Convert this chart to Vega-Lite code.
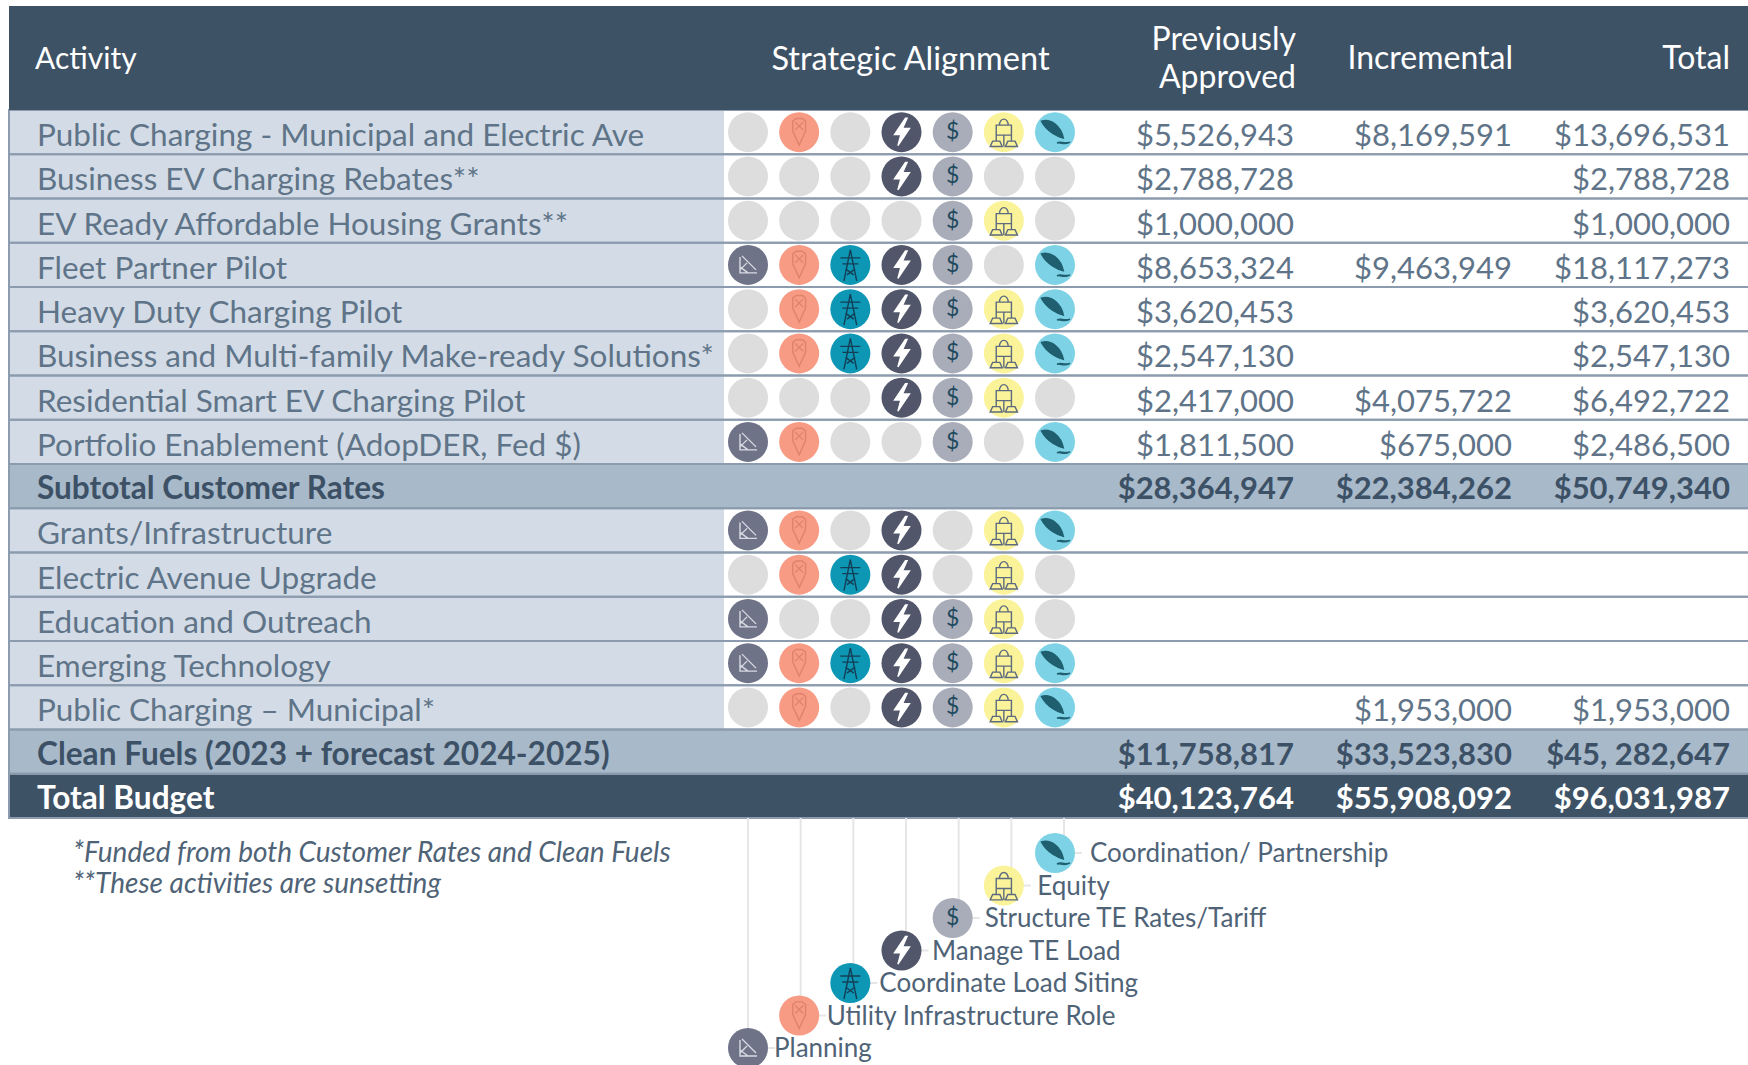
{"$schema":"https://vega.github.io/schema/vega-lite/v6.json","width":1748,"height":1065,"padding":0,"autosize":{"type":"none"},"background":"white","config":{"view":{"stroke":null},"text":{"font":"Lato"}},
"datasets":{
"rows":[
{"activity":"Public Charging - Municipal and Electric Ave","kind":"item","Planning":0,"Utility Infrastructure Role":1,"Coordinate Load Siting":0,"Manage TE Load":1,"Structure TE Rates/Tariff":1,"Equity":1,"Coordination/ Partnership":1,"Previously Approved":"$5,526,943","Incremental":"$8,169,591","Total":"$13,696,531"},
{"activity":"Business EV Charging Rebates**","kind":"item","Planning":0,"Utility Infrastructure Role":0,"Coordinate Load Siting":0,"Manage TE Load":1,"Structure TE Rates/Tariff":1,"Equity":0,"Coordination/ Partnership":0,"Previously Approved":"$2,788,728","Incremental":null,"Total":"$2,788,728"},
{"activity":"EV Ready Affordable Housing Grants**","kind":"item","Planning":0,"Utility Infrastructure Role":0,"Coordinate Load Siting":0,"Manage TE Load":0,"Structure TE Rates/Tariff":1,"Equity":1,"Coordination/ Partnership":0,"Previously Approved":"$1,000,000","Incremental":null,"Total":"$1,000,000"},
{"activity":"Fleet Partner Pilot","kind":"item","Planning":1,"Utility Infrastructure Role":1,"Coordinate Load Siting":1,"Manage TE Load":1,"Structure TE Rates/Tariff":1,"Equity":0,"Coordination/ Partnership":1,"Previously Approved":"$8,653,324","Incremental":"$9,463,949","Total":"$18,117,273"},
{"activity":"Heavy Duty Charging Pilot","kind":"item","Planning":0,"Utility Infrastructure Role":1,"Coordinate Load Siting":1,"Manage TE Load":1,"Structure TE Rates/Tariff":1,"Equity":1,"Coordination/ Partnership":1,"Previously Approved":"$3,620,453","Incremental":null,"Total":"$3,620,453"},
{"activity":"Business and Multi-family Make-ready Solutions*","kind":"item","Planning":0,"Utility Infrastructure Role":1,"Coordinate Load Siting":1,"Manage TE Load":1,"Structure TE Rates/Tariff":1,"Equity":1,"Coordination/ Partnership":1,"Previously Approved":"$2,547,130","Incremental":null,"Total":"$2,547,130"},
{"activity":"Residential Smart EV Charging Pilot","kind":"item","Planning":0,"Utility Infrastructure Role":0,"Coordinate Load Siting":0,"Manage TE Load":1,"Structure TE Rates/Tariff":1,"Equity":1,"Coordination/ Partnership":0,"Previously Approved":"$2,417,000","Incremental":"$4,075,722","Total":"$6,492,722"},
{"activity":"Portfolio Enablement (AdopDER, Fed $)","kind":"item","Planning":1,"Utility Infrastructure Role":1,"Coordinate Load Siting":0,"Manage TE Load":0,"Structure TE Rates/Tariff":1,"Equity":0,"Coordination/ Partnership":1,"Previously Approved":"$1,811,500","Incremental":"$675,000","Total":"$2,486,500"},
{"activity":"Subtotal Customer Rates","kind":"subtotal","Previously Approved":"$28,364,947","Incremental":"$22,384,262","Total":"$50,749,340"},
{"activity":"Grants/Infrastructure","kind":"item","Planning":1,"Utility Infrastructure Role":1,"Coordinate Load Siting":0,"Manage TE Load":1,"Structure TE Rates/Tariff":0,"Equity":1,"Coordination/ Partnership":1},
{"activity":"Electric Avenue Upgrade","kind":"item","Planning":0,"Utility Infrastructure Role":1,"Coordinate Load Siting":1,"Manage TE Load":1,"Structure TE Rates/Tariff":0,"Equity":1,"Coordination/ Partnership":0},
{"activity":"Education and Outreach","kind":"item","Planning":1,"Utility Infrastructure Role":0,"Coordinate Load Siting":0,"Manage TE Load":1,"Structure TE Rates/Tariff":1,"Equity":1,"Coordination/ Partnership":0},
{"activity":"Emerging Technology","kind":"item","Planning":1,"Utility Infrastructure Role":1,"Coordinate Load Siting":1,"Manage TE Load":1,"Structure TE Rates/Tariff":1,"Equity":1,"Coordination/ Partnership":1},
{"activity":"Public Charging – Municipal*","kind":"item","Planning":0,"Utility Infrastructure Role":1,"Coordinate Load Siting":0,"Manage TE Load":1,"Structure TE Rates/Tariff":1,"Equity":1,"Coordination/ Partnership":1,"Previously Approved":null,"Incremental":"$1,953,000","Total":"$1,953,000"},
{"activity":"Clean Fuels (2023 + forecast 2024-2025)","kind":"subtotal","Previously Approved":"$11,758,817","Incremental":"$33,523,830","Total":"$45, 282,647"},
{"activity":"Total Budget","kind":"total","Previously Approved":"$40,123,764","Incremental":"$55,908,092","Total":"$96,031,987"}
],
"legend":[
{"strategy":"Coordination/ Partnership","level":1},
{"strategy":"Equity","level":2},
{"strategy":"Structure TE Rates/Tariff","level":3},
{"strategy":"Manage TE Load","level":4},
{"strategy":"Coordinate Load Siting","level":5},
{"strategy":"Utility Infrastructure Role","level":6},
{"strategy":"Planning","level":7}
],
"headers":[{"column":"Previously Approved","label":"Previously","line":"upper"},{"column":"Previously Approved","label":"Approved","line":"lower"},{"column":"Incremental","label":"Incremental","line":"single"},{"column":"Total","label":"Total","line":"single"}],
"notes":[{"note":"*Funded from both Customer Rates and Clean Fuels"},{"note":"**These activities are sunsetting"}]
},
"encoding":{"y":{"field":"activity","type":"nominal","axis":null,"scale":{"type":"band","domain":["Public Charging - Municipal and Electric Ave","Business EV Charging Rebates**","EV Ready Affordable Housing Grants**","Fleet Partner Pilot","Heavy Duty Charging Pilot","Business and Multi-family Make-ready Solutions*","Residential Smart EV Charging Pilot","Portfolio Enablement (AdopDER, Fed $)","Subtotal Customer Rates","Grants/Infrastructure","Electric Avenue Upgrade","Education and Outreach","Emerging Technology","Public Charging – Municipal*","Clean Fuels (2023 + forecast 2024-2025)","Total Budget"],"range":[110,818],"paddingInner":0,"paddingOuter":0}}},
"resolve":{"scale":{"x":"independent","y":"independent","color":"independent","fill":"independent","stroke":"independent","shape":"independent"}},
"layer":[
{"data":{"name":"rows"},"mark":{"type":"rect"},"encoding":{"x":{"datum":"Table","type":"nominal","axis":null,"scale":{"type":"band","domain":["Table"],"range":[9,1748],"paddingInner":0,"paddingOuter":0}},"color":{"field":"kind","type":"nominal","legend":null,"scale":{"domain":["item","subtotal","total"],"range":["#ffffff","#a8b9ca","#3e5266"]}}}},
{"data":{"name":"rows"},"transform":[{"filter":"datum.kind==='item'"}],"mark":{"type":"rect","fill":"#d3dce6"},"encoding":{"x":{"datum":"Activity","type":"nominal","axis":null,"scale":{"type":"band","domain":["Activity"],"range":[9,724],"paddingInner":0,"paddingOuter":0}}}},
{"data":{"name":"rows"},"mark":{"type":"rect","fillOpacity":0,"stroke":"#8c9cae","strokeWidth":2},"encoding":{"x":{"datum":"Table","type":"nominal","axis":null,"scale":{"type":"band","domain":["Table"],"range":[9,1760],"paddingInner":0,"paddingOuter":0}}}},
{"data":{"name":"rows"},"transform":[{"filter":"datum.kind==='item'"},{"fold":["Planning","Utility Infrastructure Role","Coordinate Load Siting","Manage TE Load","Structure TE Rates/Tariff","Equity","Coordination/ Partnership"],"as":["strategy","aligned"]}],"mark":{"type":"point","filled":true,"opacity":1,"size":1600,"shape":"circle"},"encoding":{"x":{"field":"strategy","type":"nominal","axis":null,"scale":{"type":"point","domain":["Planning","Utility Infrastructure Role","Coordinate Load Siting","Manage TE Load","Structure TE Rates/Tariff","Equity","Coordination/ Partnership"],"range":[748,1055],"padding":0}},"fill":{"condition":{"test":"datum.aligned===0","value":"#dddddd"},"field":"strategy","type":"nominal","legend":null,"scale":{"domain":["Planning","Utility Infrastructure Role","Coordinate Load Siting","Manage TE Load","Structure TE Rates/Tariff","Equity","Coordination/ Partnership"],"range":["#6e7388","#f79b85","#0e96b5","#52566a","#a9adba","#faf39a","#7dd3e5"]}}}},
{"data":{"name":"rows"},"transform":[{"filter":"datum.kind==='item'"},{"fold":["Planning","Utility Infrastructure Role","Coordinate Load Siting","Manage TE Load","Equity","Coordination/ Partnership"],"as":["strategy","aligned"]},{"filter":"datum.aligned===1"}],"mark":{"type":"point","opacity":1,"size":1600,"strokeWidth":1.4},"encoding":{"x":{"field":"strategy","type":"nominal","axis":null,"scale":{"type":"point","domain":["Planning","Utility Infrastructure Role","Coordinate Load Siting","Manage TE Load","Structure TE Rates/Tariff","Equity","Coordination/ Partnership"],"range":[748,1055],"padding":0}},
"shape":{"field":"strategy","type":"nominal","legend":null,"scale":{"domain":["Planning","Utility Infrastructure Role","Coordinate Load Siting","Manage TE Load","Equity","Coordination/ Partnership"],"range":["M-0.4,-0.4 L-0.4,0.4 L0.45,0.4 M-0.3,-0.45 L0.4,0.25 M-0.4,0.1 L0,0.4 M-0.4,0.25 L-0.05,-0.1","M-0.32,-0.55 L-0.15,-0.68 L0.15,-0.68 L0.32,-0.55 L0.32,-0.05 L0,0.65 L-0.32,-0.05 Z M-0.2,-0.5 L0.2,-0.1 M0.2,-0.5 L-0.2,-0.1","M0,-0.75 L-0.32,0.8 M0,-0.75 L0.32,0.8 M-0.5,-0.35 L0.5,-0.35 M-0.4,-0.05 L0.4,-0.05 M-0.24,0.2 L0.17,0.5 M0.24,0.2 L-0.17,0.5","M0.2,-0.7 L-0.35,0.12 L-0.03,0.12 L-0.18,0.68 L0.4,-0.18 L0.05,-0.18 L0.28,-0.7 Z","M-0.22,-0.35 A0.22,0.3 0 0 1 0.22,-0.35 Z M-0.38,-0.35 L0.38,-0.35 L0.38,0.15 L-0.38,0.15 Z M-0.68,0.72 L-0.08,0.72 L-0.2,0.45 L-0.56,0.45 Z M0.08,0.72 L0.68,0.72 L0.56,0.45 L0.2,0.45 Z M0,0.15 L0,0.72 M-0.38,0.15 L-0.38,0.45 M0.38,0.15 L0.38,0.45","M-0.68,-0.55 C-0.2,-0.7 0.3,-0.3 0.42,0.3 C0.2,0.25 -0.4,0 -0.68,-0.55 Z M0.1,0.55 C0.3,0.4 0.4,0.62 0.75,0.5 C0.4,0.68 0.3,0.48 0.1,0.55 Z"]}},
"fill":{"field":"strategy","type":"nominal","legend":null,"scale":{"domain":["Planning","Utility Infrastructure Role","Coordinate Load Siting","Manage TE Load","Equity","Coordination/ Partnership"],"range":["transparent","transparent","transparent","#ffffff","transparent","#1f5f70"]}},
"stroke":{"field":"strategy","type":"nominal","legend":null,"scale":{"domain":["Planning","Utility Infrastructure Role","Coordinate Load Siting","Manage TE Load","Equity","Coordination/ Partnership"],"range":["#d8dae2","#e0826c","#123f55","#ffffff","#5d6a7f","#1f5f70"]}}}},
{"data":{"name":"rows"},"transform":[{"filter":"datum.kind==='item'"},{"fold":["Structure TE Rates/Tariff"],"as":["strategy","aligned"]},{"filter":"datum.aligned===1"}],"mark":{"type":"text","text":"$","fontSize":23,"color":"#1f4a5e","baseline":"middle","align":"center"},"encoding":{"x":{"field":"strategy","type":"nominal","axis":null,"scale":{"type":"point","domain":["Planning","Utility Infrastructure Role","Coordinate Load Siting","Manage TE Load","Structure TE Rates/Tariff","Equity","Coordination/ Partnership"],"range":[748,1055],"padding":0}}}},
{"data":{"name":"rows"},"transform":[{"filter":"datum.kind==='item'"}],"mark":{"type":"text","align":"left","baseline":"middle","dx":28,"dy":5,"fontSize":31.5,"color":"#5f7488"},"encoding":{"text":{"field":"activity"},"x":{"datum":"Table","type":"nominal","bandPosition":0,"axis":null,"scale":{"type":"band","domain":["Table"],"range":[9,1748],"paddingInner":0,"paddingOuter":0}}}},
{"data":{"name":"rows"},"transform":[{"filter":"datum.kind!=='item'"}],"mark":{"type":"text","align":"left","baseline":"middle","dx":28,"dy":4,"fontSize":31.6,"fontWeight":"bold"},"encoding":{"text":{"field":"activity"},"x":{"datum":"Table","type":"nominal","bandPosition":0,"axis":null,"scale":{"type":"band","domain":["Table"],"range":[9,1748],"paddingInner":0,"paddingOuter":0}},"color":{"field":"kind","type":"nominal","legend":null,"scale":{"domain":["item","subtotal","total"],"range":["#5f7488","#3d5166","#ffffff"]}}}},
{"data":{"name":"rows"},"transform":[{"filter":"datum.kind==='item'"},{"fold":["Previously Approved","Incremental","Total"],"as":["column","amount"]},{"filter":"isValid(datum.amount)"}],"mark":{"type":"text","align":"right","baseline":"middle","dy":5,"fontSize":31,"color":"#5f7488"},"encoding":{"text":{"field":"amount"},"x":{"field":"column","type":"nominal","axis":null,"scale":{"type":"point","domain":["Previously Approved","Incremental","Total"],"range":[1294,1730],"padding":0}}}},
{"data":{"name":"rows"},"transform":[{"filter":"datum.kind!=='item'"},{"fold":["Previously Approved","Incremental","Total"],"as":["column","amount"]}],"mark":{"type":"text","align":"right","baseline":"middle","dy":4,"fontSize":31,"fontWeight":"bold"},"encoding":{"text":{"field":"amount"},"x":{"field":"column","type":"nominal","axis":null,"scale":{"type":"point","domain":["Previously Approved","Incremental","Total"],"range":[1294,1730],"padding":0}},"color":{"field":"kind","type":"nominal","legend":null,"scale":{"domain":["item","subtotal","total"],"range":["#5f7488","#3d5166","#ffffff"]}}}},
{"data":{"values":[{"band":"Header"}]},"mark":{"type":"rect","fill":"#3e5266"},"encoding":{"x":{"datum":"Table","type":"nominal","axis":null,"scale":{"type":"band","domain":["Table"],"range":[9,1748],"paddingInner":0,"paddingOuter":0}},"y":{"field":"band","type":"nominal","axis":null,"scale":{"type":"band","domain":["Header"],"range":[6,110],"paddingInner":0,"paddingOuter":0}}}},
{"data":{"values":[{"band":"Header","label":"Activity"}]},"mark":{"type":"text","align":"left","baseline":"middle","dx":26,"dy":2,"fontSize":30,"color":"#ffffff"},"encoding":{"text":{"field":"label"},"x":{"datum":"Table","type":"nominal","bandPosition":0,"axis":null,"scale":{"type":"band","domain":["Table"],"range":[9,1748],"paddingInner":0,"paddingOuter":0}},"y":{"field":"band","type":"nominal","axis":null,"scale":{"type":"band","domain":["Header"],"range":[6,110],"paddingInner":0,"paddingOuter":0}}}},
{"data":{"values":[{"band":"Header","label":"Strategic Alignment"}]},"mark":{"type":"text","align":"center","baseline":"middle","dy":2,"fontSize":32.5,"color":"#ffffff"},"encoding":{"text":{"field":"label"},"x":{"field":"label","type":"nominal","axis":null,"scale":{"type":"band","domain":["Strategic Alignment"],"range":[771,1050],"paddingInner":0,"paddingOuter":0}},"y":{"field":"band","type":"nominal","axis":null,"scale":{"type":"band","domain":["Header"],"range":[6,110],"paddingInner":0,"paddingOuter":0}}}},
{"data":{"name":"headers"},"mark":{"type":"text","align":"right","baseline":"middle","fontSize":32,"color":"#ffffff"},"encoding":{"text":{"field":"label"},"x":{"field":"column","type":"nominal","axis":null,"scale":{"type":"point","domain":["Previously Approved","Incremental","Total"],"range":[1296,1730],"padding":0}},"y":{"field":"line","type":"nominal","axis":null,"scale":{"type":"point","domain":["upper","single","lower"],"range":[40,78],"padding":0}}}},
{"data":{"name":"notes"},"mark":{"type":"text","align":"left","baseline":"middle","fontStyle":"italic","fontSize":28,"color":"#4f6377"},"encoding":{"text":{"field":"note"},"x":{"field":"note","type":"nominal","axis":null,"scale":{"type":"point","domain":["*Funded from both Customer Rates and Clean Fuels","**These activities are sunsetting"],"range":[73,73],"padding":0}},"y":{"field":"note","type":"nominal","axis":null,"scale":{"type":"point","domain":["*Funded from both Customer Rates and Clean Fuels","**These activities are sunsetting"],"range":[854,885],"padding":0}}}},
{"data":{"name":"legend"},"mark":{"type":"rule","stroke":"#e6e6e6","strokeWidth":2},"encoding":{"x":{"field":"strategy","type":"nominal","axis":null,"scale":{"type":"point","domain":["Planning","Utility Infrastructure Role","Coordinate Load Siting","Manage TE Load","Structure TE Rates/Tariff","Equity","Coordination/ Partnership"],"range":[748,1064],"padding":0}},"y":{"field":"level","type":"quantitative","axis":null,"scale":{"domain":[0,1,7],"range":[818,853,1048]}},"y2":{"datum":0}}},
{"data":{"name":"legend"},"mark":{"type":"rule","stroke":"#e6e6e6","strokeWidth":2,"x2Offset":27},"encoding":{"x":{"field":"strategy","type":"nominal","axis":null,"scale":{"type":"point","domain":["Planning","Utility Infrastructure Role","Coordinate Load Siting","Manage TE Load","Structure TE Rates/Tariff","Equity","Coordination/ Partnership"],"range":[748,1055],"padding":0}},"x2":{"field":"strategy"},"y":{"field":"level","type":"quantitative","axis":null,"scale":{"domain":[0,1,7],"range":[818,853,1048]}}}},
{"data":{"name":"legend"},"mark":{"type":"point","filled":true,"opacity":1,"size":1600,"shape":"circle"},"encoding":{"x":{"field":"strategy","type":"nominal","axis":null,"scale":{"type":"point","domain":["Planning","Utility Infrastructure Role","Coordinate Load Siting","Manage TE Load","Structure TE Rates/Tariff","Equity","Coordination/ Partnership"],"range":[748,1055],"padding":0}},"y":{"field":"level","type":"quantitative","axis":null,"scale":{"domain":[0,1,7],"range":[818,853,1048]}},"fill":{"field":"strategy","type":"nominal","legend":null,"scale":{"domain":["Planning","Utility Infrastructure Role","Coordinate Load Siting","Manage TE Load","Structure TE Rates/Tariff","Equity","Coordination/ Partnership"],"range":["#6e7388","#f79b85","#0e96b5","#52566a","#a9adba","#faf39a","#7dd3e5"]}}}},
{"data":{"name":"legend"},"transform":[{"filter":"datum.strategy!=='Structure TE Rates/Tariff'"}],"mark":{"type":"point","opacity":1,"size":1600,"strokeWidth":1.4},"encoding":{"x":{"field":"strategy","type":"nominal","axis":null,"scale":{"type":"point","domain":["Planning","Utility Infrastructure Role","Coordinate Load Siting","Manage TE Load","Structure TE Rates/Tariff","Equity","Coordination/ Partnership"],"range":[748,1055],"padding":0}},"y":{"field":"level","type":"quantitative","axis":null,"scale":{"domain":[0,1,7],"range":[818,853,1048]}},
"shape":{"field":"strategy","type":"nominal","legend":null,"scale":{"domain":["Planning","Utility Infrastructure Role","Coordinate Load Siting","Manage TE Load","Equity","Coordination/ Partnership"],"range":["M-0.4,-0.4 L-0.4,0.4 L0.45,0.4 M-0.3,-0.45 L0.4,0.25 M-0.4,0.1 L0,0.4 M-0.4,0.25 L-0.05,-0.1","M-0.32,-0.55 L-0.15,-0.68 L0.15,-0.68 L0.32,-0.55 L0.32,-0.05 L0,0.65 L-0.32,-0.05 Z M-0.2,-0.5 L0.2,-0.1 M0.2,-0.5 L-0.2,-0.1","M0,-0.75 L-0.32,0.8 M0,-0.75 L0.32,0.8 M-0.5,-0.35 L0.5,-0.35 M-0.4,-0.05 L0.4,-0.05 M-0.24,0.2 L0.17,0.5 M0.24,0.2 L-0.17,0.5","M0.2,-0.7 L-0.35,0.12 L-0.03,0.12 L-0.18,0.68 L0.4,-0.18 L0.05,-0.18 L0.28,-0.7 Z","M-0.22,-0.35 A0.22,0.3 0 0 1 0.22,-0.35 Z M-0.38,-0.35 L0.38,-0.35 L0.38,0.15 L-0.38,0.15 Z M-0.68,0.72 L-0.08,0.72 L-0.2,0.45 L-0.56,0.45 Z M0.08,0.72 L0.68,0.72 L0.56,0.45 L0.2,0.45 Z M0,0.15 L0,0.72 M-0.38,0.15 L-0.38,0.45 M0.38,0.15 L0.38,0.45","M-0.68,-0.55 C-0.2,-0.7 0.3,-0.3 0.42,0.3 C0.2,0.25 -0.4,0 -0.68,-0.55 Z M0.1,0.55 C0.3,0.4 0.4,0.62 0.75,0.5 C0.4,0.68 0.3,0.48 0.1,0.55 Z"]}},
"fill":{"field":"strategy","type":"nominal","legend":null,"scale":{"domain":["Planning","Utility Infrastructure Role","Coordinate Load Siting","Manage TE Load","Equity","Coordination/ Partnership"],"range":["transparent","transparent","transparent","#ffffff","transparent","#1f5f70"]}},
"stroke":{"field":"strategy","type":"nominal","legend":null,"scale":{"domain":["Planning","Utility Infrastructure Role","Coordinate Load Siting","Manage TE Load","Equity","Coordination/ Partnership"],"range":["#d8dae2","#e0826c","#123f55","#ffffff","#5d6a7f","#1f5f70"]}}}},
{"data":{"name":"legend"},"transform":[{"filter":"datum.strategy==='Structure TE Rates/Tariff'"}],"mark":{"type":"text","text":"$","fontSize":23,"color":"#1f4a5e","baseline":"middle","align":"center"},"encoding":{"x":{"field":"strategy","type":"nominal","axis":null,"scale":{"type":"point","domain":["Planning","Utility Infrastructure Role","Coordinate Load Siting","Manage TE Load","Structure TE Rates/Tariff","Equity","Coordination/ Partnership"],"range":[748,1055],"padding":0}},"y":{"field":"level","type":"quantitative","axis":null,"scale":{"domain":[0,1,7],"range":[818,853,1048]}}}},
{"data":{"name":"legend"},"mark":{"type":"text","align":"left","baseline":"middle","dy":1,"fontSize":26,"color":"#4f6377"},"encoding":{"text":{"field":"strategy"},"x":{"field":"strategy","type":"nominal","axis":null,"scale":{"type":"point","domain":["Planning","Utility Infrastructure Role","Coordinate Load Siting","Manage TE Load","Structure TE Rates/Tariff","Equity","Coordination/ Partnership"],"range":[774,1090],"padding":0}},"y":{"field":"level","type":"quantitative","axis":null,"scale":{"domain":[0,1,7],"range":[818,853,1048]}}}}
]}
